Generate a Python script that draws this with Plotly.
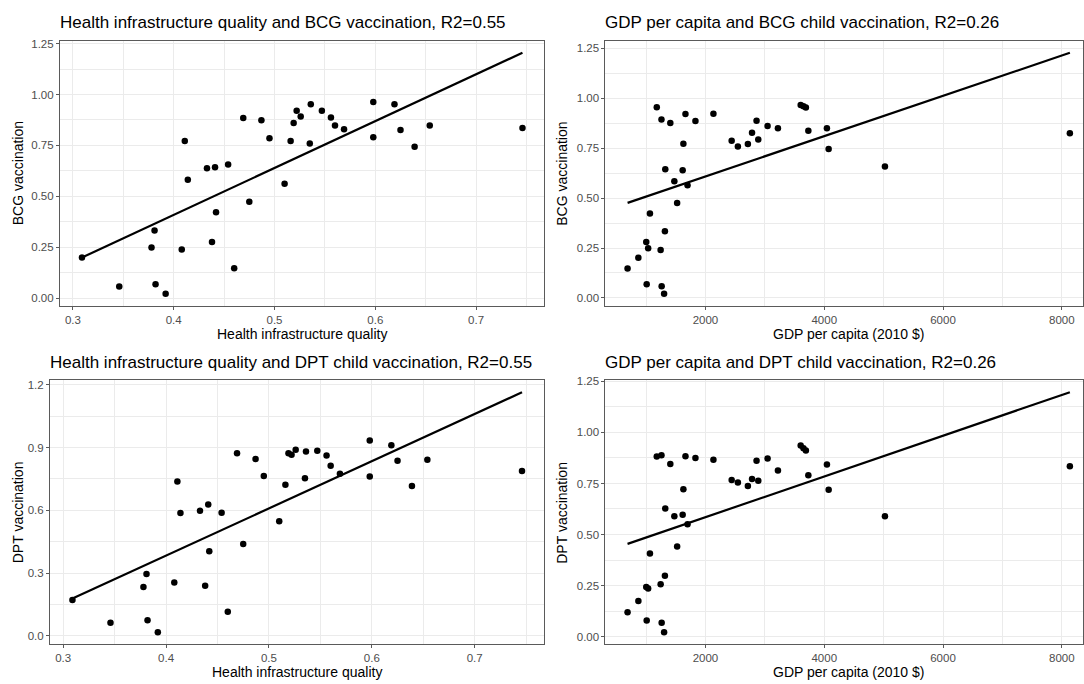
import plotly.graph_objects as go

W, H = 1084, 684

# ---------------- data ----------------
# Health infrastructure quality panels (37 countries)
hq = [0.309, 0.346, 0.378, 0.381, 0.382, 0.392, 0.408, 0.411, 0.414, 0.433,
      0.438, 0.441, 0.442, 0.454, 0.460, 0.469, 0.475, 0.487, 0.495, 0.510,
      0.516, 0.519, 0.522, 0.526, 0.536, 0.535, 0.547, 0.556, 0.560, 0.569,
      0.598, 0.598, 0.619, 0.625, 0.639, 0.654, 0.746]
bcg_hq = [0.199, 0.057, 0.248, 0.332, 0.068, 0.021, 0.238, 0.771, 0.581, 0.638,
          0.275, 0.643, 0.421, 0.656, 0.146, 0.884, 0.473, 0.874, 0.785, 0.562,
          0.771, 0.860, 0.920, 0.892, 0.952, 0.759, 0.920, 0.887, 0.848, 0.829,
          0.963, 0.790, 0.952, 0.826, 0.743, 0.848, 0.835]
dpt_hq = [0.171, 0.063, 0.233, 0.296, 0.074, 0.017, 0.255, 0.738, 0.587, 0.598,
          0.239, 0.628, 0.404, 0.588, 0.115, 0.873, 0.439, 0.845, 0.764, 0.547,
          0.722, 0.873, 0.865, 0.889, 0.881, 0.753, 0.884, 0.862, 0.813, 0.774,
          0.933, 0.761, 0.911, 0.837, 0.716, 0.841, 0.788]

# GDP per capita panels (38 countries)
gdp = [688, 870, 1003, 1010, 1035, 1065, 1180, 1245, 1259, 1262,
       1303, 1317, 1323, 1408, 1476, 1523, 1616, 1628, 1663, 1698,
       1831, 2134, 2441, 2546, 2714, 2784, 2860, 2889, 3046, 3220,
       3603, 3650, 3691, 3732, 4045, 4074, 5022, 8136]
bcg_gdp = [0.147, 0.201, 0.280, 0.069, 0.249, 0.423, 0.955, 0.240, 0.894, 0.059,
           0.021, 0.334, 0.644, 0.876, 0.585, 0.476, 0.639, 0.772, 0.921, 0.565,
           0.886, 0.922, 0.787, 0.759, 0.771, 0.828, 0.888, 0.794, 0.861, 0.850,
           0.967, 0.960, 0.954, 0.838, 0.850, 0.746, 0.659, 0.825]
dpt_gdp = [0.119, 0.174, 0.243, 0.079, 0.236, 0.407, 0.882, 0.256, 0.888, 0.068,
           0.021, 0.298, 0.627, 0.846, 0.589, 0.441, 0.597, 0.722, 0.883, 0.550,
           0.875, 0.866, 0.767, 0.755, 0.738, 0.772, 0.861, 0.764, 0.872, 0.814,
           0.936, 0.923, 0.912, 0.790, 0.843, 0.719, 0.590, 0.835]

# fitted line values at the ends of the x data range
fit_bcg_hq = [0.199, 1.205]
fit_dpt_hq = [0.178, 1.164]
fit_bcg_gdp = [0.476, 1.228]
fit_dpt_gdp = [0.454, 1.197]

titles = ["Health infrastructure quality and BCG vaccination, R2=0.55",
          "GDP per capita and BCG child vaccination, R2=0.26",
          "Health infrastructure quality and DPT child vaccination, R2=0.55",
          "GDP per capita and DPT child vaccination, R2=0.26"]
x_titles = ["Health infrastructure quality", "GDP per capita (2010 $)",
            "Health infrastructure quality", "GDP per capita (2010 $)"]
y_titles = ["BCG vaccination", "BCG vaccination",
            "DPT vaccination", "DPT vaccination"]

# ---------------- layout helpers ----------------
FONT = "Liberation Sans, Arial, Helvetica, sans-serif"
FRAME = "#5a5a5a"
GRID = "#EBEBEB"
TICKC = "#4D4D4D"


def expand(vals, f=0.05):
    lo, hi = min(vals), max(vals)
    d = (hi - lo) * f
    return [lo - d, hi + d]


# panel frames in pixels: (left, right, top, bottom)
frames = [(60, 545, 36, 303), (606, 1093, 36, 303),
          (50, 545, 378, 644), (606, 1093, 378, 644)]

panels = [
    (hq, bcg_hq, fit_bcg_hq, 0.1, 0.25, ".1f", ".2f"),
    (gdp, bcg_gdp, fit_bcg_gdp, 2000, 0.25, "d", ".2f"),
    (hq, dpt_hq, fit_dpt_hq, 0.1, 0.3, ".1f", ".1f"),
    (gdp, dpt_gdp, fit_dpt_gdp, 2000, 0.25, "d", ".2f"),
]

fig = go.Figure()
annotations = []
layout_axes = {}

for i, (xs, ys, fit, xd, yd, xf, yf) in enumerate(panels):
    n = i + 1
    xa = "x" if n == 1 else f"x{n}"
    ya = "y" if n == 1 else f"y{n}"
    fx = [min(xs), max(xs)]

    fig.add_trace(go.Scatter(x=xs, y=ys, mode="markers", xaxis=xa, yaxis=ya,
                             marker=dict(color="black", size=6.5),
                             showlegend=False, hoverinfo="x+y"))
    fig.add_trace(go.Scatter(x=fx, y=fit, mode="lines", xaxis=xa, yaxis=ya,
                             line=dict(color="black", width=2.2),
                             showlegend=False, hoverinfo="skip"))

    l, r, t, b = frames[i]
    xr = expand(xs)
    yr = expand(ys + fit)
    d0, d1 = l / W, r / W
    if d1 > 1:  # the panel is cut by the right border of the picture
        xr = [xr[0], xr[0] + (xr[1] - xr[0]) * (1 - d0) / (d1 - d0)]
        d1 = 1.0

    axis_common = dict(showline=True, mirror=True, linecolor=FRAME, linewidth=1,
                       ticks="outside", ticklen=3, tickcolor=FRAME, tickwidth=1,
                       showgrid=True, gridcolor=GRID, gridwidth=1, zeroline=False,
                       tickfont=dict(size=11.5, color=TICKC, family=FONT))
    layout_axes["xaxis" if n == 1 else f"xaxis{n}"] = dict(
        axis_common, domain=[d0, d1], range=xr, anchor=ya,
        tickmode="linear", tick0=0, dtick=xd, tickformat=xf,
        minor=dict(showgrid=True, gridcolor=GRID, gridwidth=0.5,
                   tick0=xd / 2, dtick=xd, ticks=""))
    layout_axes["yaxis" if n == 1 else f"yaxis{n}"] = dict(
        axis_common, domain=[1 - b / H, 1 - t / H], range=yr, anchor=xa,
        tickmode="linear", tick0=0, dtick=yd, tickformat=yf,
        minor=dict(showgrid=True, gridcolor=GRID, gridwidth=0.5,
                   tick0=yd / 2, dtick=yd, ticks=""))

    # panel title
    annotations.append(dict(text=titles[i], xref="paper", yref="paper",
                            x=(l - 2) / W, y=1 - (t - 18) / H,
                            xanchor="left", yanchor="middle", showarrow=False,
                            font=dict(size=17, color="black", family=FONT)))
    # x axis title
    annotations.append(dict(text=x_titles[i], xref="paper", yref="paper",
                            x=((l + r) / 2) / W, y=1 - (b + 28) / H,
                            xanchor="center", yanchor="middle", showarrow=False,
                            font=dict(size=14, color="black", family=FONT)))
    # y axis title
    ytx = 18 if i % 2 == 0 else 563
    annotations.append(dict(text=y_titles[i], xref="paper", yref="paper",
                            x=ytx / W, y=1 - ((t + b) / 2) / H, textangle=-90,
                            xanchor="center", yanchor="middle", showarrow=False,
                            font=dict(size=14, color="black", family=FONT)))

fig.update_layout(width=W, height=H, margin=dict(l=0, r=0, t=0, b=0),
                  paper_bgcolor="white", plot_bgcolor="white",
                  font=dict(family=FONT), annotations=annotations,
                  **layout_axes)

fig.write_html("out.html", config={"displayModeBar": False},
               post_script="document.body.style.margin='0';")
